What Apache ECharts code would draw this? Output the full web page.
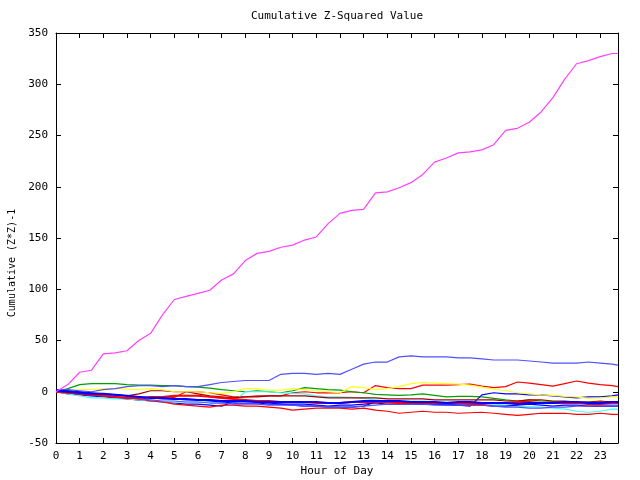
<!DOCTYPE html>
<html>
<head>
<meta charset="utf-8">
<script src="https://cdn.jsdelivr.net/npm/echarts@6/dist/echarts.min.js"></script>
<style>html,body{margin:0;padding:0;background:#fff;}#c{width:640px;height:480px;}</style>
</head>
<body>
<div id="c"></div>
<script>
var hours = [0,0.5,1,1.5,2,2.5,3,3.5,4,4.5,5,5.5,6,6.5,7,7.5,8,8.5,9,9.5,10,10.5,11,11.5,12,12.5,13,13.5,14,14.5,15,15.5,16,16.5,17,17.5,18,18.5,19,19.5,20,20.5,21,21.5,22,22.5,23,23.5,23.75];
var yTicks = [-50,0,50,100,150,200,250,300,350];

var magenta = [0,7,19,21,37,38,40,50,57,75,90,93,96,99,109,115,128,135,137,141,143,148,151,164,174,177,178,194,195,199,204,212,224,228,233,234,236,241,255,257,263,273,287,305,320,323,327,330,330];
var purple = [1,2,1,0,2,3,5,6,6,5,6,5,5,7,9,10,11,11,11,17,18,18,17,18,17,22,27,29,29,34,35,34,34,34,33,33,32,31,31,31,30,29,28,28,28,29,28,27,26];
var green = [0,3,7,8,8,8,7,6.5,6.5,6,6,5,4.5,3.5,2,1,0,1,0,-1,1,4,3,2,1.5,0,-1,-2.5,-3,-3.5,-3,-2,-3.5,-5,-4.5,-4.5,-5,-6.5,-8,-9,-8,-9,-9.5,-10,-10,-10,-10,-10,-10];
var yellow = [0,1,2,2,3,3,2.5,2,3,2,0,0,0,-1,-1.5,0,3,3,1.5,1.5,3,2,1,0,-1,5,4,2,3,5,8,9,8.5,8,7.5,6.5,4.5,2.5,1,-1,-2,-3,-3.5,-4.5,-5,-6.5,-6,-5,-5];
var cyan = [0,-2,-4,-6,-6,-7,-7,-8,-9,-10,-10,-10,-10,-10,-11,-10,0,0,0,-1,-1.5,-2,-4,-5,-5,-5.5,-6.5,-8,-9,-9,-9,-9,-9.5,-10,-10,-10,-11,-12,-13,-14,-14.5,-15,-16,-17,-19,-20,-19,-17,-17];
var redA = [0,-1,-2,-3,-4,-5,-7,-8,-5,-5,-5.5,0,0,-1,-3,-5,-5,-4,-4,-4,-1,0,-1,-1,-1,0,-1,6,4,3,3,6.5,6.5,6.5,7,7.5,5.5,4,5,9.5,8.5,7,5.5,8,10.5,8.5,7,6,5];
var redBottom = [0,-1,-2,-3,-4,-5,-6,-7,-9,-10,-12,-13,-14,-15,-13,-13,-14,-14,-15,-16,-18,-17,-16,-16,-16,-17,-16,-18,-19,-21,-20,-19,-20,-20,-21,-20.5,-20,-21,-22,-23,-22,-21,-21,-21,-22,-22,-21,-22,-22];
var darkRed = [0,-1,-1,-2,-3,-3,-4,-2,1,1,0,0,-2,-4,-5,-6,-5,-5,-4,-4,-4,-4,-5,-6,-6,-6,-6,-6,-7,-7,-7,-7,-8,-8,-8,-8,-8,-8,-9,-9,-8,-8,-9,-9,-10,-10,-9,-10,-10];
var redC = [0,-1,-2,-3,-4,-5,-6,-6,-5,-5,-4,-4,-4,-5,-6,-7,-8,-9,-9,-10,-10,-10,-11,-11,-11,-10,-10,-10,-10,-11,-11,-11,-11,-11,-11,-12,-12,-11,-11,-10,-10,-11,-11,-11,-11,-12,-12,-11,-11];
var blueA = [0,-2,-3,-4,-5,-6,-7,-8,-9,-10,-11,-12,-12,-13,-14,-10,-9,-10,-11,-12,-13,-14,-14,-15,-15,-15,-14,-10,-10,-11,-11,-12,-12,-12,-13,-14,-3,-1,-2,-2,-3,-3,-4,-5,-6,-5,-5,-4,-3];
var blueB = [2,1,0,-1,-2,-3,-4,-5,-6,-7,-7,-8,-8,-9,-10,-11,-11,-11,-12,-12,-12,-12,-13,-14,-13,-13,-12,-11,-12,-12,-12,-12,-12,-13,-13,-13,-13,-14,-14,-13,-12,-13,-14,-13,-13,-14,-14,-14,-14];
var blueC = [1,0,-1,-2,-2,-3,-4,-5,-6,-6,-7,-7,-8,-8,-9,-9,-9,-10,-10,-10,-10,-10,-10,-11,-11,-10,-9,-9,-9,-9,-10,-10,-10,-11,-10,-10,-11,-11,-11,-12,-11,-11,-11,-10,-10,-11,-11,-10,-10];
var purple2 = [0,-1,-2,-3,-4,-5,-6,-7,-8,-9,-9,-10,-10,-11,-11,-12,-12,-12,-13,-13,-13,-14,-14,-15,-15,-15,-14,-13,-12,-12,-12,-12,-13,-13,-13,-13,-13,-14,-15,-15,-16,-16,-15,-15,-14,-14,-13,-13,-13];

var seriesDefs = [
  {name:'r1', vals:redA, color:'#ff0000', w:1.2},
  {name:'g1', vals:green, color:'#00a000', w:1.2},
  {name:'b1', vals:blueA, color:'#0000ff', w:1.2},
  {name:'c1', vals:cyan, color:'#40ffff', w:1.2},
  {name:'dr1', vals:darkRed, color:'#a00000', w:1.2},
  {name:'y1', vals:yellow, color:'#ffff20', w:1.2},
  {name:'p1', vals:purple, color:'#5050ff', w:1.2},
  {name:'r2', vals:redBottom, color:'#ff0000', w:1.2},
  {name:'b2', vals:blueB, color:'#0000ff', w:1.2},
  {name:'p2', vals:purple2, color:'#5050ff', w:1.2},
  {name:'r3', vals:redC, color:'#ff0000', w:2},
  {name:'b3', vals:blueC, color:'#0000ff', w:2},
  {name:'m1', vals:magenta, color:'#ff40ff', w:1.2}
];

var FONT = 'DejaVu Sans Mono';
var chart = echarts.init(document.getElementById('c'), null, {renderer:'canvas'});

var series = seriesDefs.map(function(s){
  return {
    name: s.name, type:'line', showSymbol:false, symbol:'none',
    xAxisIndex:0, yAxisIndex:0,
    lineStyle:{color:s.color, width:s.w},
    itemStyle:{color:s.color},
    animation:false,
    data: hours.map(function(h,i){ return [h, s.vals[i]]; })
  };
});

var axisCommonX = {
  type:'value', min:0, max:23.75, interval:1,
  axisLine:{show:true, onZero:false, lineStyle:{color:'#000', width:1}},
  axisTick:{show:true, inside:true, length:5, lineStyle:{color:'#000'}},
  splitLine:{show:false}
};
var axisCommonY = {
  type:'value', min:yTicks[0], max:yTicks[yTicks.length-1], interval:50,
  axisLine:{show:true, onZero:false, lineStyle:{color:'#000', width:1}},
  axisTick:{show:true, inside:true, length:5, lineStyle:{color:'#000'}},
  splitLine:{show:false}
};

chart.setOption({
  backgroundColor:'#ffffff',
  animation:false,
  grid:{left:56, right:22, top:33, bottom:37, containLabel:false},
  xAxis:[
    Object.assign({}, axisCommonX, {position:'bottom',
      axisLabel:{show:true, color:'#000', fontFamily:FONT, fontSize:11, margin:8, showMaxLabel:false}}),
    Object.assign({}, axisCommonX, {position:'top', axisLabel:{show:false}})
  ],
  yAxis:[
    Object.assign({}, axisCommonY, {position:'left',
      axisLabel:{show:true, color:'#000', fontFamily:FONT, fontSize:11, margin:8}}),
    Object.assign({}, axisCommonY, {position:'right', axisLabel:{show:false}})
  ],
  graphic:[
    {type:'text', x:337, y:16, style:{text:'Cumulative Z-Squared Value', font:'11px "DejaVu Sans Mono"', fill:'#000', textAlign:'center', textVerticalAlign:'middle'}},
    {type:'text', x:337, y:471, style:{text:'Hour of Day', font:'11px "DejaVu Sans Mono"', fill:'#000', textAlign:'center', textVerticalAlign:'middle'}},
    {type:'text', x:12, y:263, rotation:Math.PI/2, style:{text:'Cumulative (Z*Z)-1', font:'10px "DejaVu Sans Mono"', fill:'#000', textAlign:'center', textVerticalAlign:'middle'}}
  ],
  series: series
});
</script>
</body>
</html>
